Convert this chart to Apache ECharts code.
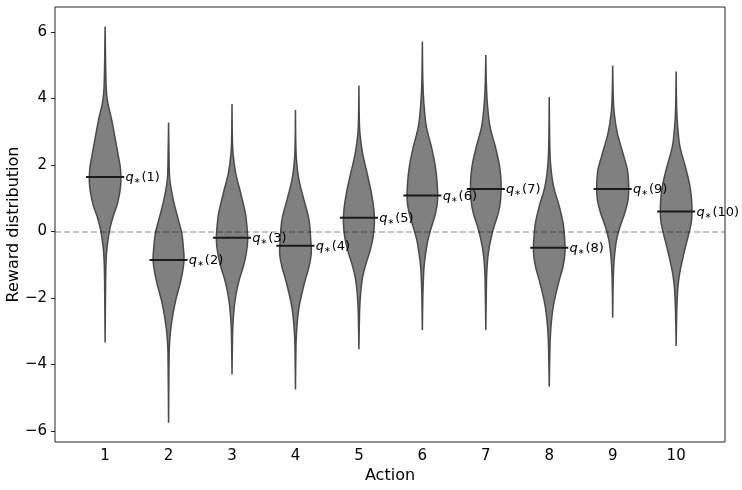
<!DOCTYPE html>
<html>
<head>
<meta charset="utf-8">
<script src="https://cdn.jsdelivr.net/npm/echarts@6/dist/echarts.min.js"></script>
<style>
html,body{margin:0;padding:0;background:#fff;}
#chart{width:742px;height:490px;}
</style>
</head>
<body>
<div id="chart"></div>
<script>
// ---- data ----
const actions = [1, 2, 3, 4, 5, 6, 7, 8, 9, 10];
const qStar = [1.64, -0.86, -0.19, -0.43, 0.41, 1.08, 1.28, -0.49, 1.28, 0.60];
const xTicks = [1, 2, 3, 4, 5, 6, 7, 8, 9, 10];
const yTicks = [-6, -4, -2, 0, 2, 4, 6];

// violin profiles: [reward value, half-width in action units]
const violin1 = [[6.16,0],[4.36,0.016],[3.9,0.039],[3.35,0.104],[2.8,0.158],[2.25,0.210],[1.9,0.241],[1.5,0.249],[1.15,0.229],[0.8,0.189],[0.45,0.126],[0.05,0.071],[-0.45,0.032],[-0.86,0.016],[-1.5,0.008],[-3.34,0]];
const violin2 = [[3.28,0],[2.2,0.008],[1.55,0.020],[0.95,0.074],[0.35,0.154],[-0.05,0.208],[-0.46,0.232],[-0.86,0.244],[-1.26,0.216],[-1.66,0.170],[-2.06,0.113],[-2.46,0.071],[-2.86,0.039],[-3.26,0.019],[-3.66,0.009],[-5.75,0]];
const violin3 = [[3.83,0],[2.9,0.005],[2.35,0.016],[1.75,0.058],[1.15,0.137],[0.55,0.210],[0.14,0.236],[-0.26,0.247],[-0.66,0.224],[-1.06,0.177],[-1.46,0.113],[-1.86,0.066],[-2.26,0.036],[-2.66,0.019],[-3.06,0.009],[-4.30,0]];
const violin4 = [[3.65,0],[2.7,0.005],[2.15,0.016],[1.55,0.055],[0.95,0.134],[0.35,0.213],[-0.26,0.241],[-0.66,0.249],[-1.06,0.213],[-1.46,0.154],[-1.86,0.102],[-2.26,0.058],[-2.66,0.032],[-3.06,0.016],[-3.46,0.008],[-4.75,0]];
const violin5 = [[4.39,0],[3.5,0.005],[2.95,0.016],[2.35,0.058],[1.75,0.129],[1.15,0.197],[0.65,0.236],[0.25,0.244],[-0.16,0.224],[-0.56,0.178],[-0.96,0.113],[-1.36,0.060],[-1.76,0.032],[-2.16,0.016],[-2.6,0.008],[-3.54,0]];
const violin6 = [[5.71,0],[4.5,0.008],[3.86,0.024],[3.15,0.063],[2.55,0.142],[1.95,0.205],[1.45,0.233],[0.95,0.240],[0.55,0.208],[0.14,0.145],[-0.26,0.087],[-0.66,0.052],[-1.06,0.027],[-1.46,0.016],[-1.9,0.008],[-2.96,0]];
const violin7 = [[5.31,0],[4.5,0.008],[3.86,0.024],[3.15,0.066],[2.55,0.150],[1.95,0.218],[1.45,0.241],[0.95,0.233],[0.55,0.197],[0.14,0.129],[-0.26,0.076],[-0.66,0.039],[-1.06,0.020],[-1.46,0.011],[-2.96,0]];
const violin8 = [[4.04,0],[2.6,0.008],[1.95,0.024],[1.35,0.068],[0.75,0.158],[0.25,0.218],[-0.26,0.244],[-0.66,0.247],[-1.06,0.216],[-1.46,0.158],[-1.86,0.106],[-2.26,0.063],[-2.66,0.036],[-3.06,0.020],[-3.46,0.011],[-4.67,0]];
const violin9 = [[4.99,0],[4.1,0.008],[3.55,0.024],[2.95,0.074],[2.35,0.162],[1.85,0.232],[1.35,0.252],[0.95,0.241],[0.55,0.189],[0.14,0.115],[-0.26,0.060],[-0.66,0.032],[-1.06,0.016],[-1.46,0.008],[-2.59,0]];
const violin10 = [[4.81,0],[3.7,0.008],[3.15,0.024],[2.55,0.060],[1.95,0.145],[1.35,0.218],[0.85,0.247],[0.35,0.244],[-0.05,0.202],[-0.46,0.147],[-0.86,0.098],[-1.26,0.055],[-1.66,0.028],[-2.06,0.016],[-2.5,0.008],[-3.44,0]];
const violins = [violin1, violin2, violin3, violin4, violin5, violin6, violin7, violin8, violin9, violin10];

// ---- chart ----
const FONT = 'DejaVu Sans';
const chart = echarts.init(document.getElementById('chart'), null, {renderer: 'canvas'});
const minusFmt = v => (v < 0 ? '\u2212' + Math.abs(v) : String(v));

const option = {
  animation: false,
  backgroundColor: '#fff',
  grid: {left: 55, right: 17, top: 7, bottom: 48, show: true, borderColor: '#222', borderWidth: 1,
         backgroundColor: 'transparent', containLabel: false, outerBoundsMode: 'none'},
  xAxis: {
    type: 'value', min: 0.21, max: 10.77,
    name: 'Action', nameLocation: 'middle', nameGap: 26, nameMoveOverlap: false,
    nameTextStyle: {fontFamily: FONT, fontSize: 16, color: '#000'},
    axisLine: {show: false},
    splitLine: {show: false},
    axisTick: {show: true, length: 4, lineStyle: {color: '#222', width: 1}, customValues: xTicks},
    axisLabel: {fontFamily: FONT, fontSize: 15, color: '#000', margin: 7, customValues: xTicks, formatter: v => String(v)}
  },
  yAxis: {
    type: 'value', min: -6.33, max: 6.75,
    name: 'Reward distribution', nameLocation: 'middle', nameGap: 33, nameMoveOverlap: false,
    nameTextStyle: {fontFamily: FONT, fontSize: 16, color: '#000'},
    axisLine: {show: false},
    splitLine: {show: false},
    axisTick: {show: true, length: 4, lineStyle: {color: '#222', width: 1}, customValues: yTicks},
    axisLabel: {fontFamily: FONT, fontSize: 15, color: '#000', margin: 8, customValues: yTicks, formatter: minusFmt}
  },
  series: [
    {
      type: 'custom',
      name: 'violins',
      data: actions.map((a, i) => [a, qStar[i]]),
      renderItem: function (params, api) {
        const a = api.value(0);
        const prof = violins[params.dataIndex];
        const right = prof.map(p => api.coord([a + p[1], p[0]]));
        const left = prof.slice().reverse().map(p => api.coord([a - p[1], p[0]]));
        const pts = right.concat(left);
        return {
          type: 'polygon',
          shape: {points: pts, smooth: 0.35},
          style: {fill: '#808080', stroke: '#4a4a4a', lineWidth: 1.5}
        };
      },
      markLine: {
        silent: true, symbol: 'none', label: {show: false},
        lineStyle: {color: 'rgba(0,0,0,0.3)', type: [6, 3], width: 1.5},
        data: [{yAxis: 0}]
      },
      z: 2
    },
    {
      type: 'custom',
      name: 'qstar',
      data: actions.map((a, i) => [a, qStar[i]]),
      renderItem: function (params, api) {
        const a = api.value(0), q = api.value(1);
        const p1 = api.coord([a - 0.3, q]);
        const p2 = api.coord([a + 0.3, q]);
        const pt = api.coord([a + 0.32, q]);
        return {
          type: 'group',
          children: [
            {type: 'line', shape: {x1: p1[0], y1: p1[1], x2: p2[0], y2: p2[1]}, style: {stroke: '#1a1a1a', lineWidth: 2}},
            {type: 'text', style: {
              x: pt[0], y: pt[1] + 1, text: '{q|q}{s|\u2217}{t|(' + a + ')}',
              verticalAlign: 'middle', align: 'left', fill: '#000',
              rich: {
                q: {fontFamily: FONT, fontStyle: 'italic', fontSize: 13, fill: '#000', color: '#000'},
                s: {fontFamily: FONT, fontSize: 8, fill: '#000', color: '#000', padding: [6, 1, 0, 0]},
                t: {fontFamily: FONT, fontSize: 13, fill: '#000', color: '#000'}
              }
            }}
          ]
        };
      },
      z: 3
    }
  ]
};
chart.setOption(option);
</script>
</body>
</html>
